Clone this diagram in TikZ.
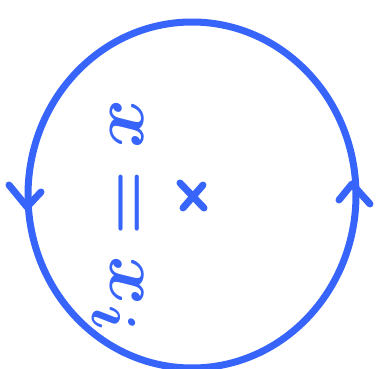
\documentclass[tikz,border=0pt]{standalone}
\usepackage{amsmath,amssymb,bm}
\usetikzlibrary{calc}
\definecolor{penblue}{RGB}{55,100,250}
\tikzset{pen/.style={penblue, line width=7pt, line cap=round, line join=round}}

\begin{document}
\begin{tikzpicture}[x=1pt, y=-1pt]
    \useasboundingbox (0,0) rectangle (384,369);
    \coordinate (o) at (192,195);
    \draw[pen] (o) ellipse [x radius=164pt, y radius=173pt];

    % orientation marks on the ellipse
    \coordinate (lefttip) at (27,207);
    \coordinate (righttip) at (352,184);
    \draw[pen] ($(lefttip)+(-18,-22)$) -- (lefttip) -- ($(lefttip)+(14,-15)$);
    \draw[pen] ($(righttip)+(-13,16)$) -- (righttip) -- ($(righttip)+(18,20)$);

    % the point
    \draw[pen] ($(o)+(-12,-12)$) -- ($(o)+(12,13)$);
    \draw[pen] ($(o)+(11,-10)$) -- ($(o)+(-9,13)$);

    \node[penblue, rotate=-90, scale=3.0, transform shape, font=\Huge] (eqn) at (118,216) {$\bm{x = x_i}$};
\end{tikzpicture}
\end{document}
